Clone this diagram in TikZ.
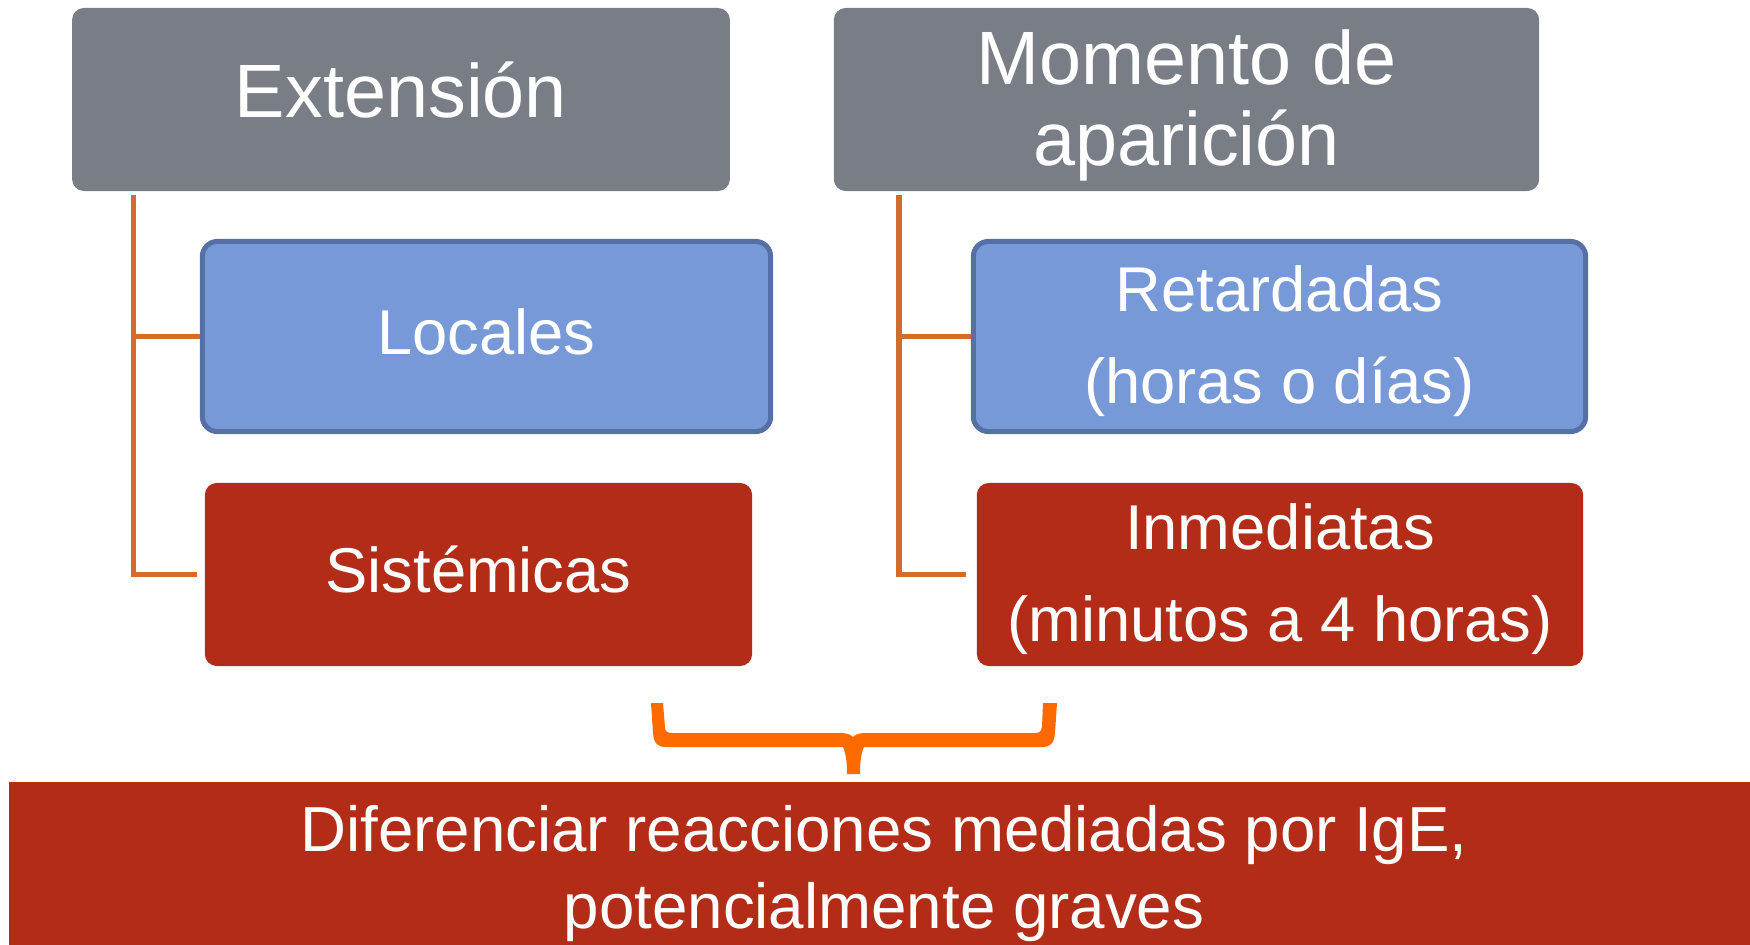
\documentclass[tikz,border=0pt]{standalone}
\usepackage{fontspec}
\setmainfont{Liberation Sans}
\usepackage{tikz}
\usetikzlibrary{positioning}

\definecolor{grigio}{HTML}{797D86}
\definecolor{azzurro}{HTML}{7799D8}
\definecolor{bordoaz}{HTML}{5670A6}
\definecolor{rosso}{HTML}{B22C18}
\definecolor{ramo}{HTML}{D26B2C}
\definecolor{graffa}{HTML}{FF6A00}

\begin{document}
\begin{tikzpicture}[x=0.01cm,y=-0.01cm,
		testa/.style={fill=grigio,rounded corners=0.12cm,text=white,align=center,inner sep=0pt,
			font=\fontsize{21.5}{23}\selectfont,text depth=0.13em,minimum height=1.83cm},
		blu/.style={fill=azzurro,draw=bordoaz,line width=1.42pt,rounded corners=0.15cm,text=white,align=center,inner sep=0pt,
			font=\fontsize{18}{26.2}\selectfont,text depth=0.13em,minimum height=1.90cm},
		rossa/.style={fill=rosso,rounded corners=0.12cm,text=white,align=center,inner sep=0pt,
			font=\fontsize{18}{26.2}\selectfont,text depth=0.13em,minimum height=1.83cm},
		riga/.style={text height=1.1em,text depth=0.08em},
		ramo/.style={draw=ramo,line width=1.56pt}]
					\useasboundingbox (0,0) rectangle (1750,945);
					\clip (0,0) rectangle (1750,945);
					%Intestazioni
					\node [testa,riga,minimum width=6.575cm] (ext) at (401,99.5) {Extensión};
					\node [testa,minimum width=7.05cm] (mom) at (1186.5,99.5) {Momento de\\aparición};
					%Sottocategorie
					\node [blu,riga,minimum width=5.68cm] (loc) at (486.5,336.5) {Locales};
					\node [rossa,riga,minimum width=5.47cm] (sis) at (478.5,574.5) {Sistémicas};
					\node [blu,minimum width=6.12cm] (ret) at (1279.5,336.5) {Retardadas\\(horas o días)};
					\node [rossa,minimum width=6.06cm] (inm) at (1280,574.5) {Inmediatas\\(minutos a 4 horas)};
					%Rami
					\draw [ramo] ([xshift=0.62cm,yshift=-0.03cm]ext.south west) |- (loc.west);
					\draw [ramo,shorten >=0.07cm] ([xshift=0.62cm,yshift=-0.03cm]ext.south west) |- (sis.west);
					\draw [ramo] ([xshift=0.66cm,yshift=-0.03cm]mom.south west) |- (ret.west);
					\draw [ramo,shorten >=0.10cm] ([xshift=0.66cm,yshift=-0.03cm]mom.south west) |- (inm.west);
					%Conclusione
					\node [fill=rosso,text=white,align=center,inner sep=0pt,minimum width=17.48cm,minimum height=1.74cm,
						font=\fontsize{18.1}{21.9}\selectfont,text depth=0.13em] (dif) at (884,869)
						{Diferenciar reacciones mediadas por IgE,\\potencialmente graves};
					%Graffa
					\fill [graffa] (651,703) -- (653,733) .. controls (654,744) and (658,747) .. (666,747)
						-- (843,747) .. controls (846,754) and (847,762) .. (847,774) -- (860,774)
						.. controls (860,762) and (861,754) .. (864,747) -- (1042,747)
						.. controls (1050,747) and (1054,744) .. (1055,733) -- (1057,703) -- (1043,703)
						-- (1042,727) .. controls (1041,732) and (1039,733) .. (1035,733) -- (866,733)
						.. controls (860,733) and (856,734) .. (853,737) .. controls (850,734) and (846,733) .. (840,733)
						-- (672,733) .. controls (668,733) and (665,732) .. (665,727) -- (663,703) -- cycle;
		\end{tikzpicture}
\end{document}
